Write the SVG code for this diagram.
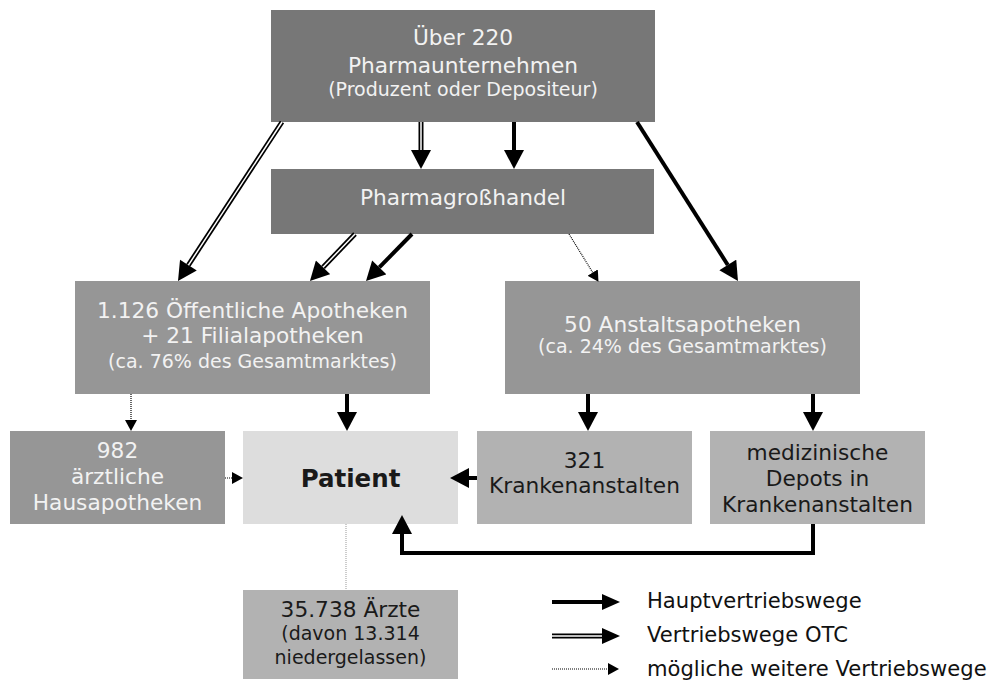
<svg xmlns="http://www.w3.org/2000/svg" width="1000" height="686" viewBox="0 0 1000 686">
<style>
.t{font-family:"DejaVu Sans","Verdana",sans-serif;text-anchor:middle}
.w{fill:#f2f2f2}
.d{fill:#1a1a1a}
.b{font-size:21.7px}
.s{font-size:19px}
.l{font-family:"DejaVu Sans","Verdana",sans-serif;font-size:21.1px;fill:#111}
.dark{fill:#777777}
.mid{fill:#969696}
.light{fill:#b2b2b2}
.solid{stroke:#000;stroke-width:4;fill:none}
.dblo{stroke:#000;stroke-width:5;fill:none}
.dbli{stroke:#fff;stroke-width:1.5;fill:none}
.dot{stroke:#000;stroke-width:1.2;stroke-dasharray:1 1;fill:none}
</style>
<defs>
<marker id="h" markerUnits="userSpaceOnUse" markerWidth="20" markerHeight="20" refX="0" refY="10" orient="auto" viewBox="0 0 19 20">
<path d="M0,0 L19,10 L0,20 z" fill="#000"/>
</marker>
<marker id="hl" markerUnits="userSpaceOnUse" markerWidth="18" markerHeight="16" refX="0" refY="8" orient="auto" viewBox="0 0 18 16">
<path d="M0,0 L18,8 L0,16 z" fill="#000"/>
</marker>
<marker id="hs" markerUnits="userSpaceOnUse" markerWidth="11" markerHeight="12" refX="0" refY="6" orient="auto" viewBox="0 0 11 12">
<path d="M0,0 L11,6 L0,12 z" fill="#000"/>
</marker>
</defs>

<g id="n-pharma">
<rect class="dark" x="271" y="10" width="384" height="112"/>
<text class="t w b" x="463" y="45">Über 220</text>
<text class="t w b" x="463" y="73">Pharmaunternehmen</text>
<text class="t w s" x="463" y="96">(Produzent oder Depositeur)</text>
</g>
<g id="n-gross">
<rect class="dark" x="271" y="169" width="383" height="65"/>
<text class="t w b" x="463" y="205">Pharmagroßhandel</text>
</g>
<g id="n-oeff">
<rect class="mid" x="75" y="281" width="355" height="113"/>
<text class="t w b" x="252.5" y="318">1.126 Öffentliche Apotheken</text>
<text class="t w b" x="252.5" y="343">+ 21 Filialapotheken</text>
<text class="t w s" x="252.5" y="368">(ca. 76% des Gesamtmarktes)</text>
</g>
<g id="n-anstalt">
<rect class="mid" x="505" y="281" width="355" height="113"/>
<text class="t w b" x="682.5" y="332">50 Anstaltsapotheken</text>
<text class="t w s" x="682.5" y="353">(ca. 24% des Gesamtmarktes)</text>
</g>
<g id="n-haus">
<rect class="mid" x="10" y="431" width="215" height="93"/>
<text class="t w b" x="117.5" y="458">982</text>
<text class="t w b" x="117.5" y="484">ärztliche</text>
<text class="t w b" x="117.5" y="510">Hausapotheken</text>
</g>
<g id="n-patient">
<rect fill="#dddddd" x="243" y="431" width="215" height="93"/>
<text class="t d" x="350.5" y="487" font-size="24.5" font-weight="bold">Patient</text>
</g>
<g id="n-kranken">
<rect class="light" x="477" y="431" width="215" height="93"/>
<text class="t d b" x="584.5" y="468">321</text>
<text class="t d b" x="584.5" y="493">Krankenanstalten</text>
</g>
<g id="n-depots">
<rect class="light" x="710" y="431" width="215" height="93"/>
<text class="t d b" x="817.5" y="460">medizinische</text>
<text class="t d b" x="817.5" y="486">Depots in</text>
<text class="t d b" x="817.5" y="512">Krankenanstalten</text>
</g>
<g id="n-aerzte">
<rect class="light" x="243" y="590" width="215" height="89"/>
<text class="t d b" x="350.5" y="617">35.738 Ärzte</text>
<text class="t d s" x="350.5" y="640">(davon 13.314</text>
<text class="t d s" x="350.5" y="664">niedergelassen)</text>
</g>

<g id="connectors">
<path class="dblo" d="M421,122 L421,150" marker-end="url(#h)"/>
<path class="dbli" d="M421,122 L421,150"/>
<path class="dblo" d="M282,122 L188.4,265.1" marker-end="url(#h)"/>
<path class="dbli" d="M282,122 L188.4,265.1"/>
<path class="dblo" d="M355,234 L323.1,267.3" marker-end="url(#h)"/>
<path class="dbli" d="M355,234 L323.1,267.3"/>
<path class="solid" d="M514,122 L514,150" marker-end="url(#h)"/>
<path class="solid" d="M412,234 L379.3,267.4" marker-end="url(#h)"/>
<path class="solid" d="M637,122 L727.8,265" marker-end="url(#h)"/>
<path class="solid" d="M347,394 L347,412" marker-end="url(#h)"/>
<path class="solid" d="M588,394 L588,412" marker-end="url(#h)"/>
<path class="solid" d="M813,394 L813,412" marker-end="url(#h)"/>
<path class="solid" d="M477,478 L469,478" marker-end="url(#h)"/>
<path class="solid" d="M813,524 V553 H402 V534" marker-end="url(#h)"/>
<path class="dot" d="M569,234 L592.7,272.5" marker-end="url(#hs)"/>
<path class="dot" d="M131,394 L131,420" marker-end="url(#hs)"/>
<path class="dot" d="M225,478 L232,478" marker-end="url(#hs)"/>
<path d="M346,524 V590" stroke="#999" stroke-width="1" stroke-dasharray="1 1" fill="none"/>
</g>

<g id="legend">
<path class="solid" d="M552,602 L602,602" marker-end="url(#hl)"/>
<path class="dblo" d="M552,636 L602,636" marker-end="url(#hl)"/>
<path class="dbli" d="M552,636 L602,636"/>
<path class="dot" d="M552,669 L608,669" marker-end="url(#hs)"/>
<text class="l" x="647" y="608">Hauptvertriebswege</text>
<text class="l" x="647" y="642">Vertriebswege OTC</text>
<text class="l" x="647" y="676">mögliche weitere Vertriebswege</text>
</g>
</svg>
